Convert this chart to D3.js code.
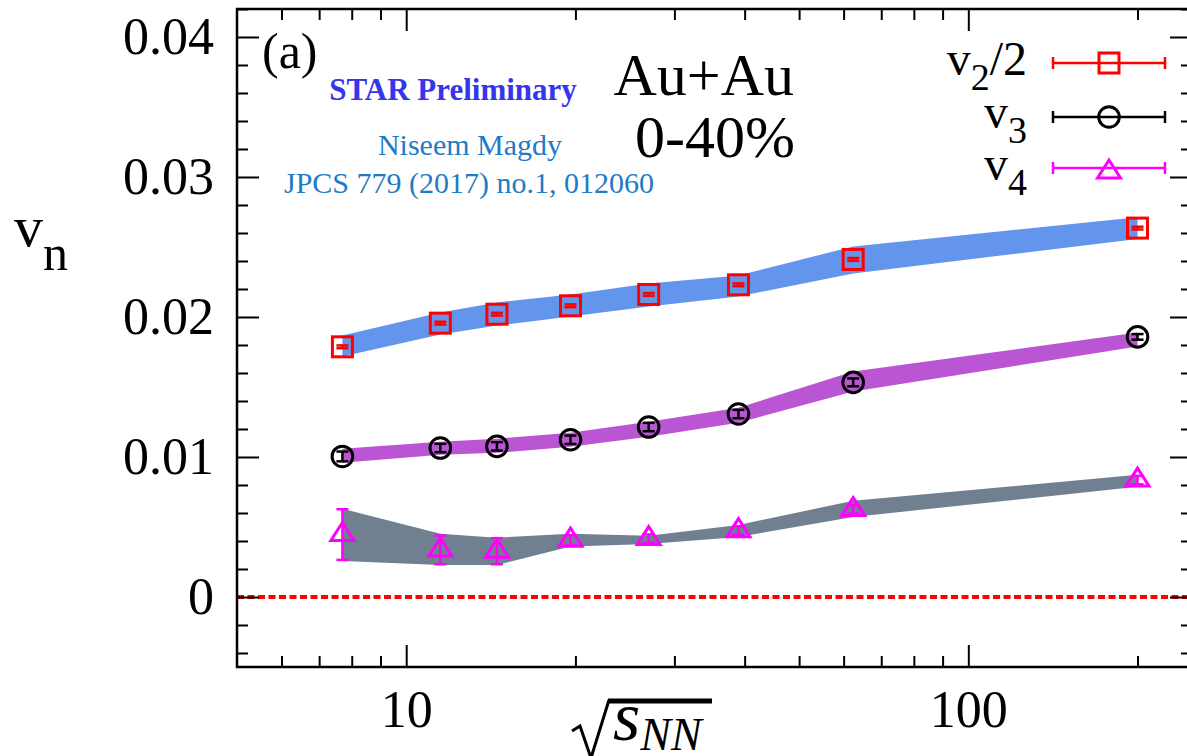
<!DOCTYPE html>
<html>
<head>
<meta charset="utf-8">
<script src="https://cdn.jsdelivr.net/npm/d3@7"></script>
<style>
  html, body { margin: 0; padding: 0; background: #fff; }
  svg { display: block; }
  text { font-family: "Liberation Serif", "Times New Roman", serif; }
</style>
</head>
<body>
<svg id="chart" width="1187" height="756"></svg>
<script>
// Collision energies (GeV)
const energies = [7.7, 11.5, 14.5, 19.6, 27, 39, 62.4, 200];

// v2/2 : values, statistical errors, systematic band
const v2half     = [0.01787, 0.01956, 0.0202, 0.0208, 0.02161, 0.0223, 0.02411, 0.02635];
const v2halfStat = [0.0001, 0.0001, 0.0001, 0.0001, 0.0001, 0.0001, 0.0001, 0.0001];
const v2halfSysHi = [0.01868, 0.02032, 0.02104, 0.02161, 0.0224, 0.02297, 0.02504, 0.02712];
const v2halfSysLo = [0.01717, 0.01875, 0.01939, 0.02004, 0.02075, 0.02147, 0.02311, 0.02558];

// v3
const v3     = [0.01004, 0.01064, 0.01076, 0.01123, 0.01214, 0.01307, 0.01533, 0.01858];
const v3Stat = [0.00035, 0.0003, 0.0003, 0.0003, 0.0003, 0.0003, 0.00028, 0.0002];
const v3SysHi = [0.01059, 0.01109, 0.01131, 0.01174, 0.01252, 0.01352, 0.0161, 0.01889];
const v3SysLo = [0.00959, 0.01016, 0.0103, 0.01073, 0.01145, 0.01245, 0.01467, 0.01789];

// v4
const v4     = [0.00446, 0.00336, 0.00327, 0.00406, 0.00417, 0.00474, 0.00625, 0.00835];
const v4Stat = [0.00181, 0.00102, 0.00093, 0.00035, 0.0003, 0.0003, 0.0003, 0.0003];
const v4SysHi = [0.0063, 0.00451, 0.00424, 0.00451, 0.00437, 0.00515, 0.00687, 0.00873];
const v4SysLo = [0.00258, 0.00229, 0.00229, 0.0036, 0.00379, 0.00429, 0.00572, 0.00787];

// Axis ticks
const xMajorTicks = [10, 100];
const xMinorTicks = [6, 7, 8, 9, 20, 30, 40, 50, 60, 70, 80, 90, 200];
const yMajorTicks = [0, 0.01, 0.02, 0.03, 0.04];
const yTickLabels = ["0", "0.01", "0.02", "0.03", "0.04"];

const svg = d3.select("#chart");

const plotLeft = 237, plotRight = 1192, plotTop = 9, plotBottom = 667;
const x = d3.scaleLog().domain([5, 250]).range([plotLeft, plotRight]);
const y = d3.scaleLinear().domain([-0.005, 0.042]).range([plotBottom, plotTop]);

const yMinorTicks = d3.range(-0.004, 0.0421, 0.002)
  .map(v => +v.toFixed(3))
  .filter(v => !yMajorTicks.some(m => Math.abs(m - v) < 1e-9));

const series = [
  { name: "v2", val: v2half, stat: v2halfStat, lo: v2halfSysLo, hi: v2halfSysHi,
    band: "#6495ED", color: "#ff0000", marker: "square" },
  { name: "v3", val: v3, stat: v3Stat, lo: v3SysLo, hi: v3SysHi,
    band: "#BA55D3", color: "#000000", marker: "circle" },
  { name: "v4", val: v4, stat: v4Stat, lo: v4SysLo, hi: v4SysHi,
    band: "#708090", color: "#ff00ff", marker: "triangle" }
];

// Systematic bands
const area = d3.area()
  .x(d => x(d.e))
  .y0(d => y(d.lo))
  .y1(d => y(d.hi));

series.forEach(s => {
  const pts = energies.map((e, i) => ({ e, lo: s.lo[i], hi: s.hi[i] }));
  svg.append("path")
    .datum(pts)
    .attr("d", area)
    .attr("fill", s.band)
    .attr("stroke", "none");
});

// Zero line
svg.append("line")
  .attr("x1", x(5)).attr("x2", x(250))
  .attr("y1", y(0)).attr("y2", y(0))
  .attr("stroke", "#ff0000")
  .attr("stroke-width", 4)
  .attr("stroke-dasharray", "7,3.5");

// Marker shapes
function drawMarker(g, type, cx, cy, color) {
  if (type === "square") {
    g.append("rect")
      .attr("x", cx - 10).attr("y", cy - 10)
      .attr("width", 20).attr("height", 20)
      .attr("fill", "none").attr("stroke", color).attr("stroke-width", 3);
  } else if (type === "circle") {
    g.append("circle")
      .attr("cx", cx).attr("cy", cy).attr("r", 10.3)
      .attr("fill", "none").attr("stroke", color).attr("stroke-width", 3);
  } else {
    g.append("path")
      .attr("d", `M${cx},${cy - 12} L${cx + 11.5},${cy + 6} L${cx - 11.5},${cy + 6} Z`)
      .attr("fill", "none").attr("stroke", color).attr("stroke-width", 3)
      .attr("stroke-linejoin", "miter");
  }
}

// Points with statistical error bars
series.forEach(s => {
  const g = svg.append("g");
  energies.forEach((e, i) => {
    const cx = x(e);
    const yl = y(s.val[i] - s.stat[i]);
    const yh = y(s.val[i] + s.stat[i]);
    g.append("line").attr("x1", cx).attr("x2", cx).attr("y1", yl).attr("y2", yh)
      .attr("stroke", s.color).attr("stroke-width", 2.5);
    [yl, yh].forEach(yy => {
      g.append("line").attr("x1", cx - 6).attr("x2", cx + 6).attr("y1", yy).attr("y2", yy)
        .attr("stroke", s.color).attr("stroke-width", 2.5);
    });
    drawMarker(g, s.marker, cx, y(s.val[i]), s.color);
  });
});

// Axes (ticks pointing inward)
function styleAxis(g) {
  g.select(".domain").remove();
  g.selectAll(".tick line").attr("stroke", "#000").attr("stroke-width", 2);
  g.attr("font-family", null).attr("font-size", null);
  g.selectAll("text").attr("fill", "#000").style("font-size", "52px")
    .style("font-family", "'Liberation Serif', 'Times New Roman', serif");
}

svg.append("g").attr("transform", `translate(0,${plotBottom})`)
  .call(d3.axisBottom(x).tickValues(xMajorTicks).tickSize(-22).tickPadding(23)
    .tickFormat(d3.format("d")))
  .call(styleAxis);
svg.append("g").attr("transform", `translate(0,${plotBottom})`)
  .call(d3.axisBottom(x).tickValues(xMinorTicks).tickSize(-11).tickFormat(""))
  .call(styleAxis);
svg.append("g").attr("transform", `translate(0,${plotTop})`)
  .call(d3.axisTop(x).tickValues(xMajorTicks).tickSize(-22).tickFormat(""))
  .call(styleAxis);
svg.append("g").attr("transform", `translate(0,${plotTop})`)
  .call(d3.axisTop(x).tickValues(xMinorTicks).tickSize(-11).tickFormat(""))
  .call(styleAxis);

svg.append("g").attr("transform", `translate(${plotLeft},0)`)
  .call(d3.axisLeft(y).tickValues(yMajorTicks).tickSize(-22).tickPadding(23)
    .tickFormat((d, i) => yTickLabels[i]))
  .call(styleAxis);
svg.append("g").attr("transform", `translate(${plotLeft},0)`)
  .call(d3.axisLeft(y).tickValues(yMinorTicks).tickSize(-11).tickFormat(""))
  .call(styleAxis);
svg.append("g").attr("transform", `translate(${plotRight},0)`)
  .call(d3.axisRight(y).tickValues(yMajorTicks).tickSize(-22).tickFormat(""))
  .call(styleAxis);
svg.append("g").attr("transform", `translate(${plotRight},0)`)
  .call(d3.axisRight(y).tickValues(yMinorTicks).tickSize(-11).tickFormat(""))
  .call(styleAxis);

// Frame
svg.append("rect")
  .attr("x", plotLeft).attr("y", plotTop)
  .attr("width", plotRight - plotLeft).attr("height", plotBottom - plotTop)
  .attr("fill", "none").attr("stroke", "#000").attr("stroke-width", 2.5);

// Y axis title v_n
const yt = svg.append("text").attr("x", 14).attr("y", 246).attr("font-size", 58).attr("fill", "#000");
yt.append("tspan").text("v");
yt.append("tspan").attr("dy", 24).attr("font-size", 50).text("n");

// X axis title: sqrt(s_NN)
const xt = svg.append("g");
xt.append("path")
  .attr("d", "M572,731 L580,726 L591,758 L609,700")
  .attr("fill", "none").attr("stroke", "#000").attr("stroke-width", 3)
  .attr("stroke-linejoin", "miter");
xt.append("line").attr("x1", 608).attr("x2", 712).attr("y1", 701).attr("y2", 701)
  .attr("stroke", "#000").attr("stroke-width", 5);
const xs = xt.append("text").attr("x", 613).attr("y", 740).attr("font-size", 70)
  .attr("font-style", "italic").attr("fill", "#000");
xs.append("tspan").text("s");
xs.append("tspan").attr("dy", 10).attr("font-size", 46).text("NN");

// Panel annotations
svg.append("text").attr("x", 262).attr("y", 68).attr("font-size", 50).attr("fill", "#000").text("(a)");
svg.append("text").attr("x", 453).attr("y", 100).attr("text-anchor", "middle")
  .attr("font-size", 31).attr("font-weight", "bold").attr("fill", "#3535ee").text("STAR Preliminary");
svg.append("text").attr("x", 470).attr("y", 155).attr("text-anchor", "middle")
  .attr("font-size", 30).attr("fill", "#1f7bc6").text("Niseem Magdy");
svg.append("text").attr("x", 469).attr("y", 193).attr("text-anchor", "middle")
  .attr("font-size", 30).attr("fill", "#1f7bc6").text("JPCS 779 (2017) no.1, 012060");
svg.append("text").attr("x", 794).attr("y", 95).attr("text-anchor", "end")
  .attr("font-size", 60).attr("fill", "#000").text("Au+Au");
svg.append("text").attr("x", 795).attr("y", 157).attr("text-anchor", "end")
  .attr("font-size", 60).attr("fill", "#000").text("0-40%");

// Legend
const legendRows = [
  { sub: "2", tail: "/2", y: 63, base: 75 },
  { sub: "3", tail: "",   y: 117, base: 128 },
  { sub: "4", tail: "",   y: 168, base: 180 }
];
legendRows.forEach((r, i) => {
  const s = series[i];
  const t = svg.append("text").attr("x", 1027).attr("y", r.base)
    .attr("text-anchor", "end").attr("font-size", 48).attr("fill", "#000");
  t.append("tspan").text("v");
  t.append("tspan").attr("dy", 15).attr("font-size", 38).text(r.sub);
  if (r.tail) t.append("tspan").attr("dy", -15).text(r.tail);

  const g = svg.append("g");
  g.append("line").attr("x1", 1053).attr("x2", 1165).attr("y1", r.y).attr("y2", r.y)
    .attr("stroke", s.color).attr("stroke-width", 2.5);
  [1053, 1165].forEach(xx => {
    g.append("line").attr("x1", xx).attr("x2", xx).attr("y1", r.y - 6).attr("y2", r.y + 6)
      .attr("stroke", s.color).attr("stroke-width", 2.5);
  });
  drawMarker(g, s.marker, 1109, r.y + (s.marker === "triangle" ? 4 : 0), s.color);
});
</script>
</body>
</html>
